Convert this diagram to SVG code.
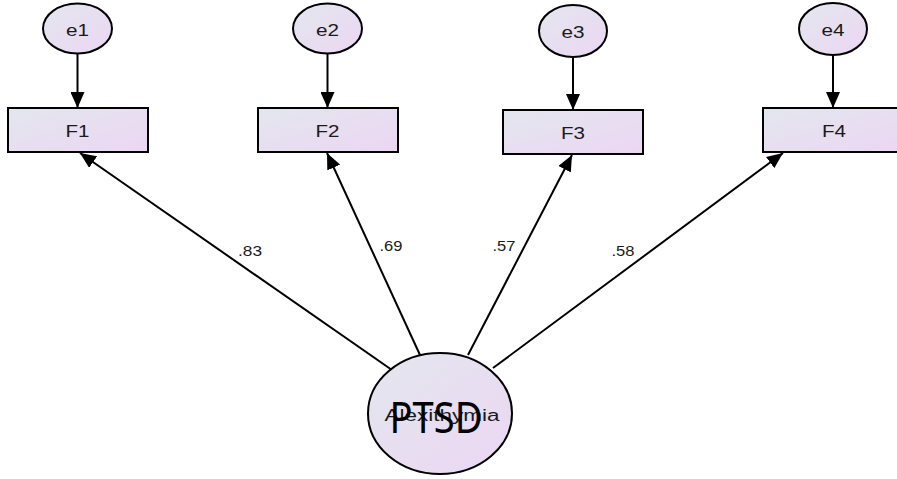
<svg xmlns="http://www.w3.org/2000/svg" width="897" height="479" viewBox="0 0 897 479">
  <defs>
    <linearGradient id="fill" x1="0" y1="0" x2="1" y2="1">
      <stop offset="0" stop-color="#e3e7ee"/>
      <stop offset="1" stop-color="#ecd6f3"/>
    </linearGradient>
    <marker id="head" markerUnits="userSpaceOnUse" markerWidth="18" markerHeight="14" refX="16" refY="7" orient="auto">
      <path d="M0,0 L16,7 L0,14 Z" fill="#000"/>
    </marker>
    <style>
      .shape { fill: url(#fill); stroke: #000; stroke-width: 2; }
      .lbl { font-family: "Liberation Sans", Arial, sans-serif; font-size: 16px; fill: #1a1a1a; text-anchor: middle; dominant-baseline: central; }
      .coef { font-family: "Liberation Sans", Arial, sans-serif; font-size: 14px; fill: #1a1a1a; text-anchor: middle; dominant-baseline: central; }
      .edge { stroke: #000; stroke-width: 2; fill: none; marker-end: url(#head); }
    </style>
  </defs>

  <g id="connectors">
    <line class="edge" x1="77.5" y1="54" x2="77.5" y2="108"/>
    <line class="edge" x1="327.5" y1="54" x2="327.5" y2="108"/>
    <line class="edge" x1="573" y1="57" x2="573" y2="110"/>
    <line class="edge" x1="833" y1="55" x2="833" y2="108"/>
    <line class="edge" x1="392" y1="370" x2="80" y2="153"/>
    <line class="edge" x1="420" y1="355" x2="327" y2="153"/>
    <line class="edge" x1="468" y1="355" x2="572" y2="155"/>
    <line class="edge" x1="493" y1="368" x2="783" y2="153"/>
    <text class="coef" x="250" y="251" textLength="24" lengthAdjust="spacingAndGlyphs">.83</text>
    <text class="coef" x="391" y="246" textLength="23" lengthAdjust="spacingAndGlyphs">.69</text>
    <text class="coef" x="504" y="246" textLength="23" lengthAdjust="spacingAndGlyphs">.57</text>
    <text class="coef" x="623" y="251" textLength="23" lengthAdjust="spacingAndGlyphs">.58</text>
  </g>

  <g id="e1">
    <ellipse class="shape" cx="77.5" cy="28.5" rx="34.5" ry="25"/>
    <text class="lbl" x="77.5" y="30" textLength="23" lengthAdjust="spacingAndGlyphs">e1</text>
  </g>
  <g id="e2">
    <ellipse class="shape" cx="327.5" cy="28.5" rx="34.5" ry="25"/>
    <text class="lbl" x="327.5" y="30" textLength="23" lengthAdjust="spacingAndGlyphs">e2</text>
  </g>
  <g id="e3">
    <ellipse class="shape" cx="573" cy="31" rx="34" ry="26"/>
    <text class="lbl" x="573" y="32" textLength="23" lengthAdjust="spacingAndGlyphs">e3</text>
  </g>
  <g id="e4">
    <ellipse class="shape" cx="833" cy="29" rx="34" ry="26"/>
    <text class="lbl" x="833" y="30" textLength="23" lengthAdjust="spacingAndGlyphs">e4</text>
  </g>

  <g id="F1">
    <rect class="shape" x="8" y="108" width="140" height="44"/>
    <text class="lbl" x="77.5" y="131" textLength="24" lengthAdjust="spacingAndGlyphs">F1</text>
  </g>
  <g id="F2">
    <rect class="shape" x="258" y="108" width="140" height="44"/>
    <text class="lbl" x="327.5" y="131" textLength="24" lengthAdjust="spacingAndGlyphs">F2</text>
  </g>
  <g id="F3">
    <rect class="shape" x="503" y="110" width="140" height="44"/>
    <text class="lbl" x="573" y="133" textLength="24" lengthAdjust="spacingAndGlyphs">F3</text>
  </g>
  <g id="F4">
    <rect class="shape" x="763" y="108" width="142" height="44"/>
    <text class="lbl" x="834" y="131" textLength="24" lengthAdjust="spacingAndGlyphs">F4</text>
  </g>

  <g id="PTSD">
    <ellipse class="shape" cx="440" cy="413.5" rx="72" ry="60.5"/>
    <text class="lbl" x="442" y="415" textLength="115" lengthAdjust="spacingAndGlyphs">Alexithymia</text>
    <text x="436" y="433" font-family="'Noto Sans', 'Liberation Sans', sans-serif" font-size="43" fill="#000" text-anchor="middle" textLength="93" lengthAdjust="spacingAndGlyphs">PTSD</text>
  </g>
</svg>
